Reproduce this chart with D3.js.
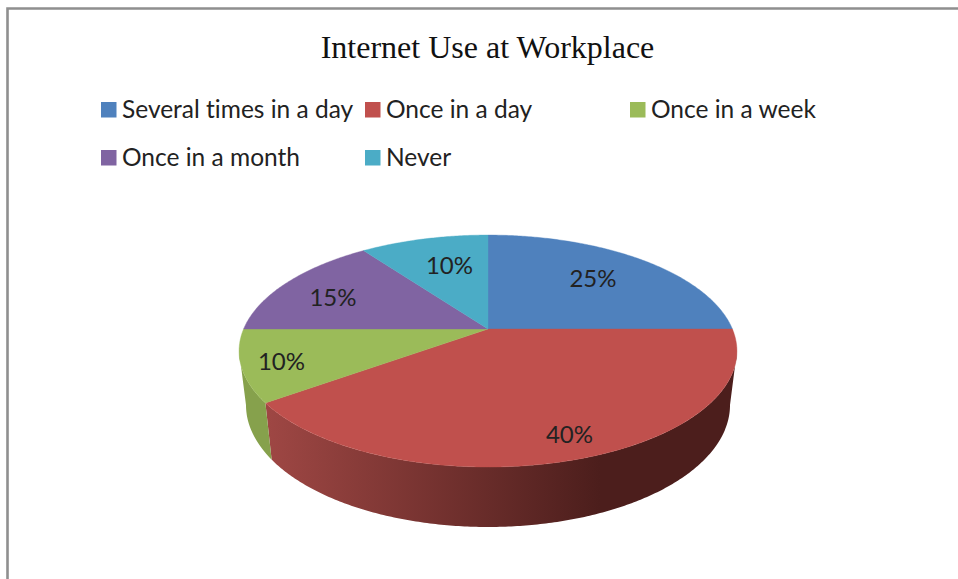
<!DOCTYPE html>
<html><head><meta charset="utf-8">
<script src="https://cdn.jsdelivr.net/npm/d3@7/dist/d3.min.js"></script>
<style>html,body{margin:0;padding:0;background:#fff}svg{display:block}text{font-variant-ligatures:none}</style>
</head><body><svg id="c" width="958" height="579"></svg>
<script>
const titleText = "Internet Use at Workplace";
const categories = ["Several times in a day","Once in a day","Once in a week","Once in a month","Never"];
const values = [25,40,10,15,10];
const colors = ["#4f81bd","#c0504d","#9bbb59","#8064a2","#4bacc6"];
const sideDark = ["#2e4b6e","#4c1e1c","#86a14c","#4a3a5e","#2c6473"];
const sideLight = ["#4f81bd","#9f4744","#86a14c","#8064a2","#4bacc6"];

const svg = d3.select("#c");
const W = 958, H = 579;
const cx = 488, P = 0.19;
const scaleA = d3.scaleLinear().domain([0,1]).range([244.4,237.6]);
const scaleB = d3.scaleLinear().domain([0,1]).range([111.8,117.6]);
const scaleCy = d3.scaleLinear().domain([0,1]).range([329,381.8]);
function proj(theta, z, r = 1) {
  const u = r * Math.sin(theta), v = r * Math.cos(theta);
  const w = 1 + P * v;
  return [cx + scaleA(z) * u / w, scaleCy(z) - scaleB(z) * v / w];
}
const line = d3.line();
const arcs = d3.pie().sort(null).value(d => d)(values);

// frame
svg.append("path").attr("d", `M7.5 ${H}V8.5H${W}`).attr("fill","none").attr("stroke","#8f8f8f").attr("stroke-width",2.6);

// title
svg.append("text").attr("x",487.5).attr("y",58).attr("text-anchor","middle")
  .attr("font-family","'Liberation Serif',serif").attr("font-size",32).attr("fill","#111").text(titleText);

// legend
const legendCols = [101,365,630];
const legendRows = [109,157];
const lg = svg.append("g");
categories.forEach((c,i)=>{
  const x = legendCols[i%3], y = legendRows[Math.floor(i/3)];
  lg.append("rect").attr("x",x).attr("y",y-7).attr("width",15.5).attr("height",15.5).attr("fill",colors[i]);
  lg.append("text").attr("x",x+21).attr("y",y+8.5).attr("font-family","Lato,'Open Sans',sans-serif")
    .attr("font-size",24.5).attr("fill","#222").text(c);
});

// side wall (front half only), coloured per slice with horizontal gradient
const defs = svg.append("defs");
const tangent = Math.asin(P);
arcs.forEach((a,i)=>{
  const start = Math.max(a.startAngle, Math.PI/2 + tangent), end = Math.min(a.endAngle, 3*Math.PI/2 - tangent);
  if (end <= start) return;
  const id = "side"+i;
  const g = defs.append("linearGradient").attr("id",id).attr("gradientUnits","userSpaceOnUse")
    .attr("x1",proj(a.endAngle,0)[0]).attr("x2",600).attr("y1",0).attr("y2",0);
  g.append("stop").attr("offset",0).attr("stop-color",sideLight[i]);
  g.append("stop").attr("offset",1).attr("stop-color",sideDark[i]);
  const ts = d3.range(start, end, 0.01).concat([end]);
  const pts = ts.map(t=>proj(t,0)).concat(ts.slice().reverse().map(t=>proj(t,1)));
  svg.append("path").attr("d",line(pts)+"Z").attr("fill", i===2 ? sideLight[i] : `url(#${id})`);
});

// top surface
arcs.forEach((a,i)=>{
  const ts = d3.range(a.startAngle,a.endAngle,0.01).concat([a.endAngle]);
  const pts = [proj(0,0,0)].concat(ts.map(t=>proj(t,0)));
  svg.append("path").attr("d",line(pts)+"Z").attr("fill",colors[i]).attr("stroke",colors[i]).attr("stroke-width",0.4);
});

// labels
const labelPos = [[593,287],[569.5,443],[281.5,370],[333,306],[449.5,274]];
values.forEach((v,i)=>{
  svg.append("text").attr("x",labelPos[i][0]).attr("y",labelPos[i][1]).attr("text-anchor","middle")
    .attr("font-family","Lato,'Open Sans',sans-serif").attr("font-size",24).attr("fill","#222").text(v+"%");
});
</script></body></html>
